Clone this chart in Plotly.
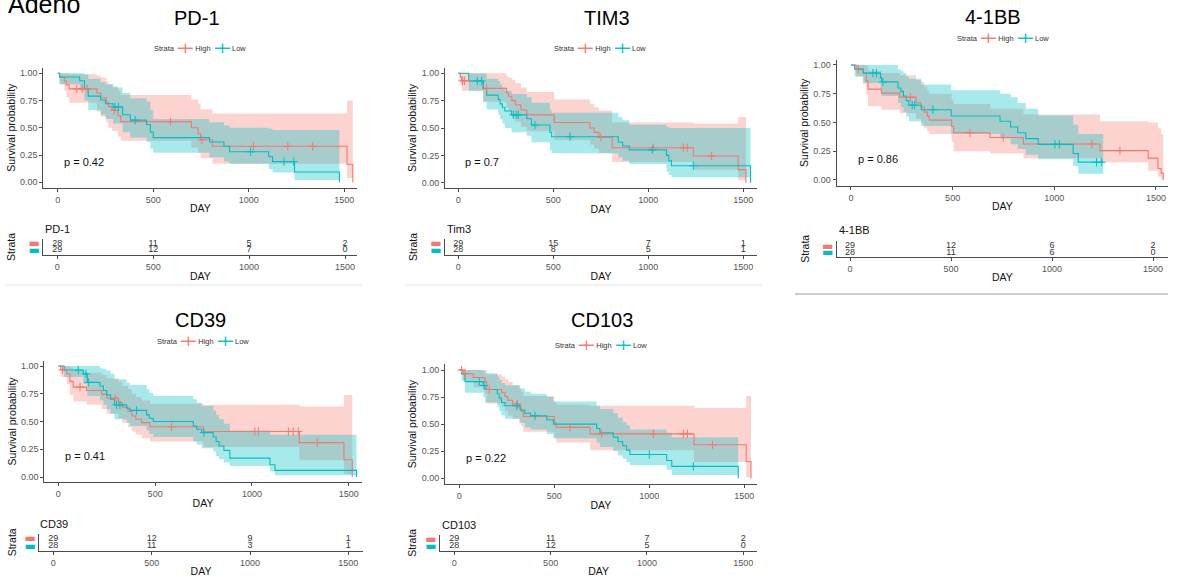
import numpy as np
import plotly.graph_objects as go

# ------------------------------------------------------------------ data
# Kaplan-Meier step points (time in days, survival, 95% CI lower / upper),
# censoring times and numbers at risk.

PD1_HIGH_T = [0, 10, 35, 45, 60, 205, 225, 255, 265, 285, 315, 330, 700, 735, 748, 810, 1515, 1545]
PD1_HIGH_S = [1.0, .964, .929, .893, .857, .816, .775, .734, .694, .66, .61, .556, .50, .445, .39, .33, .165, 0]
PD1_HIGH_LO = [1.0, .90, .84, .78, .73, .65, .60, .55, .50, .47, .42, .38, .32, .27, .22, .17, .04, 0]
PD1_HIGH_UP = [1.0, 1.0, 1.0, 1.0, .99, .98, .96, .93, .90, .88, .84, .80, .76, .72, .67, .63, .75, 0]
PD1_HIGH_C = [100, 128, 154, 295, 590, 755, 1025, 1205, 1335]
PD1_HIGH_RISK = [28, 11, 5, 2]

PD1_LOW_T = [0, 10, 115, 140, 160, 225, 250, 290, 340, 380, 465, 485, 500, 795, 870, 900, 1105, 1125, 1240, 1475]
PD1_LOW_S = [1.0, .966, .931, .862, .79, .755, .72, .69, .62, .57, .53, .46, .41, .37, .33, .28, .235, .19, .094, 0]
PD1_LOW_LO = [1.0, .90, .84, .75, .66, .62, .58, .54, .46, .41, .37, .31, .27, .23, .19, .17, .12, .09, .02, 0]
PD1_LOW_UP = [1.0, 1.0, 1.0, .99, .95, .92, .90, .87, .82, .77, .74, .66, .58, .55, .52, .50, .49, .48, .48, 0]
PD1_LOW_C = [300, 318, 405, 1010, 1185, 1236]
PD1_LOW_RISK = [29, 12, 7, 0]

TIM3_HIGH_T = [0, 10, 18, 131, 254, 265, 282, 300, 330, 360, 505, 693, 715, 740, 810, 1237, 1473, 1514]
TIM3_HIGH_S = [1.0, .966, .931, .862, .82, .79, .75, .71, .665, .62, .55, .50, .46, .415, .32, .244, .12, 0]
TIM3_HIGH_LO = [1.0, .90, .84, .74, .69, .65, .60, .56, .51, .47, .39, .35, .31, .27, .19, .12, .02, 0]
TIM3_HIGH_UP = [1.0, 1.0, 1.0, 1.0, .97, .96, .94, .91, .87, .83, .76, .72, .69, .66, .55, .54, .60, 0]
TIM3_HIGH_C = [22, 32, 149, 751, 1026, 1184, 1205, 1333]
TIM3_HIGH_RISK = [29, 15, 7, 1]

TIM3_LOW_T = [0, 55, 131, 149, 210, 220, 232, 245, 280, 360, 385, 482, 491, 842, 865, 900, 1096, 1108, 1122, 1538]
TIM3_LOW_S = [1.0, .929, .86, .80, .76, .72, .69, .655, .62, .585, .527, .46, .42, .37, .335, .30, .25, .20, .155, 0]
TIM3_LOW_LO = [1.0, .84, .74, .67, .62, .58, .54, .50, .46, .43, .37, .30, .27, .23, .20, .17, .10, .07, .05, 0]
TIM3_LOW_UP = [1.0, 1.0, 1.0, .95, .93, .90, .87, .84, .81, .78, .73, .67, .64, .60, .57, .53, .51, .50, .50, 0]
TIM3_LOW_C = [100, 123, 290, 305, 316, 403, 588, 1021, 1237]
TIM3_LOW_RISK = [28, 8, 5, 1]

BB_HIGH_T = [0, 25, 60, 75, 84, 150, 240, 320, 345, 360, 375, 385, 495, 505, 684, 848, 1225, 1462, 1510, 1526, 1536]
BB_HIGH_S = [1.0, .966, .931, .862, .79, .755, .72, .67, .635, .59, .555, .52, .465, .41, .37, .313, .255, .19, .10, .06, 0]
BB_HIGH_LO = [1.0, .90, .84, .74, .64, .61, .58, .53, .49, .45, .42, .40, .33, .25, .23, .19, .155, .08, .03, .01, 0]
BB_HIGH_UP = [1.0, 1.0, 1.0, .99, .95, .93, .91, .87, .85, .81, .78, .75, .70, .66, .62, .57, .51, .50, .45, .40, 0]
BB_HIGH_C = [36, 292, 585, 749, 1184, 1323]
BB_HIGH_RISK = [29, 12, 6, 2]

BB_LOW_T = [0, 18, 60, 145, 150, 231, 245, 258, 272, 285, 346, 493, 733, 785, 820, 860, 921, 1093, 1118, 1241]
BB_LOW_S = [1.0, .964, .929, .89, .853, .80, .77, .73, .69, .65, .61, .556, .51, .46, .41, .36, .31, .23, .155, .155]
BB_LOW_LO = [1.0, .90, .84, .78, .73, .67, .63, .59, .55, .51, .47, .40, .36, .31, .27, .22, .18, .12, .055, .055]
BB_LOW_UP = [1.0, 1.0, 1.0, 1.0, 1.0, .96, .95, .93, .90, .88, .83, .78, .75, .72, .67, .62, .56, .48, .40, .40]
BB_LOW_C = [108, 125, 157, 301, 313, 403, 1003, 1025, 1208, 1233]
BB_LOW_RISK = [28, 11, 6, 0]

CD39_HIGH_T = [0, 12, 43, 60, 77, 146, 224, 250, 310, 330, 360, 380, 400, 430, 473, 749, 1245, 1475, 1518]
CD39_HIGH_S = [1.0, .966, .931, .862, .81, .78, .745, .71, .67, .63, .59, .55, .52, .49, .453, .41, .31, .155, 0]
CD39_HIGH_LO = [1.0, .90, .84, .74, .68, .65, .61, .57, .53, .49, .45, .41, .38, .35, .32, .27, .15, .03, 0]
CD39_HIGH_UP = [1.0, 1.0, 1.0, .99, .96, .94, .92, .89, .86, .82, .79, .75, .72, .69, .66, .65, .635, .74, 0]
CD39_HIGH_C = [22, 112, 293, 585, 1015, 1033, 1188, 1213, 1239, 1337]
CD39_HIGH_RISK = [29, 12, 9, 1]

CD39_LOW_T = [0, 30, 129, 150, 215, 233, 250, 270, 290, 353, 370, 456, 470, 490, 697, 715, 740, 800, 815, 830, 855, 886, 1093, 1119, 1540]
CD39_LOW_S = [1.0, .964, .929, .853, .82, .78, .74, .70, .65, .62, .60, .56, .53, .50, .46, .43, .40, .36, .32, .28, .24, .17, .11, .06, 0]
CD39_LOW_LO = [1.0, .90, .84, .73, .69, .65, .61, .57, .52, .49, .46, .42, .39, .36, .32, .29, .26, .23, .19, .16, .13, .10, .05, .015, 0]
CD39_LOW_UP = [1.0, 1.0, 1.0, 1.0, .98, .97, .96, .93, .88, .85, .83, .79, .76, .73, .70, .67, .64, .60, .56, .52, .48, .42, .38, .38, 0]
CD39_LOW_C = [103, 143, 155, 301, 318, 404, 752]
CD39_LOW_RISK = [28, 11, 3, 1]

CD103_HIGH_T = [0, 20, 74, 135, 144, 223, 240, 255, 280, 315, 325, 337, 500, 510, 688, 1235, 1510, 1535]
CD103_HIGH_S = [1.0, .966, .931, .89, .82, .79, .755, .72, .685, .65, .62, .57, .51, .47, .41, .31, .155, 0]
CD103_HIGH_LO = [1.0, .90, .84, .78, .69, .66, .62, .58, .55, .51, .48, .43, .37, .33, .26, .15, .01, 0]
CD103_HIGH_UP = [1.0, 1.0, 1.0, 1.0, .96, .94, .92, .89, .86, .83, .80, .76, .71, .68, .67, .65, .76, 0]
CD103_HIGH_C = [12, 30, 158, 305, 582, 749, 1021, 1179, 1200, 1333]
CD103_HIGH_RISK = [29, 11, 7, 2]

CD103_LOW_T = [0, 12, 30, 126, 135, 200, 210, 222, 240, 320, 345, 375, 460, 495, 723, 740, 810, 835, 860, 880, 898, 1091, 1118, 1468]
CD103_LOW_S = [1.0, .964, .893, .857, .82, .78, .74, .70, .67, .63, .60, .578, .54, .50, .46, .42, .38, .34, .30, .26, .22, .165, .11, 0]
CD103_LOW_LO = [1.0, .90, .79, .75, .70, .66, .62, .58, .55, .51, .47, .45, .41, .37, .33, .29, .25, .21, .18, .15, .12, .08, .03, 0]
CD103_LOW_UP = [1.0, 1.0, 1.0, .99, .97, .94, .91, .88, .86, .83, .80, .78, .75, .71, .67, .64, .60, .56, .52, .49, .45, .42, .38, 0]
CD103_LOW_C = [105, 130, 302, 398, 1000, 1232]
CD103_LOW_RISK = [28, 12, 5, 0]

PANEL_TITLES = ["PD-1", "TIM3", "4-1BB", "CD39", "CD103"]
TABLE_TITLES = ["PD-1", "Tim3", "4-1BB", "CD39", "CD103"]
P_VALUES = ["p = 0.42", "p = 0.7", "p = 0.86", "p = 0.41", "p = 0.22"]
RISK_TIMES = [0, 500, 1000, 1500]
X_TICKS = [0, 500, 1000, 1500]
Y_TICKS = [0, 0.25, 0.5, 0.75, 1.0]
STRATA = ["High", "Low"]
FIGURE_LABEL = "Adeno"

SERIES = [
    [(PD1_HIGH_T, PD1_HIGH_S, PD1_HIGH_LO, PD1_HIGH_UP, PD1_HIGH_C, PD1_HIGH_RISK),
     (PD1_LOW_T, PD1_LOW_S, PD1_LOW_LO, PD1_LOW_UP, PD1_LOW_C, PD1_LOW_RISK)],
    [(TIM3_HIGH_T, TIM3_HIGH_S, TIM3_HIGH_LO, TIM3_HIGH_UP, TIM3_HIGH_C, TIM3_HIGH_RISK),
     (TIM3_LOW_T, TIM3_LOW_S, TIM3_LOW_LO, TIM3_LOW_UP, TIM3_LOW_C, TIM3_LOW_RISK)],
    [(BB_HIGH_T, BB_HIGH_S, BB_HIGH_LO, BB_HIGH_UP, BB_HIGH_C, BB_HIGH_RISK),
     (BB_LOW_T, BB_LOW_S, BB_LOW_LO, BB_LOW_UP, BB_LOW_C, BB_LOW_RISK)],
    [(CD39_HIGH_T, CD39_HIGH_S, CD39_HIGH_LO, CD39_HIGH_UP, CD39_HIGH_C, CD39_HIGH_RISK),
     (CD39_LOW_T, CD39_LOW_S, CD39_LOW_LO, CD39_LOW_UP, CD39_LOW_C, CD39_LOW_RISK)],
    [(CD103_HIGH_T, CD103_HIGH_S, CD103_HIGH_LO, CD103_HIGH_UP, CD103_HIGH_C, CD103_HIGH_RISK),
     (CD103_LOW_T, CD103_LOW_S, CD103_LOW_LO, CD103_LOW_UP, CD103_LOW_C, CD103_LOW_RISK)],
]

# ------------------------------------------------------------------ style / layout
W, H = 1177, 579
FONT = "Arial, 'Liberation Sans', sans-serif"
COLORS = ["#F8766D", "#00BFC4"]
FILLS = ["rgba(248,118,109,0.32)", "rgba(0,191,196,0.34)"]
AXIS_COLOR = "#4a4a4a"

# pixel geometry of each panel (plot box, table box, ranges, label positions)
GEOM = [
    dict(main=(43.3, 357.3, 67.8, 187.7), mxr=(-75.4, 1568.6), myr=(-0.0495, 1.05),
         tab=(43.3, 357.3, 239, 255), txr=(-73, 1564), tyr=(0.254, 2.64),
         title=(197, 18), legend=(200, 48), ttitle=(43, 229), sstand=10),
    dict(main=(445, 757, 67.8, 188.3), mxr=(-70, 1572), myr=(-0.051, 1.05),
         tab=(445, 757, 239, 255), txr=(-70, 1572), tyr=(0.254, 2.64),
         title=(607, 18), legend=(600, 48), ttitle=(445, 229), sstand=10),
    dict(main=(836.7, 1168, 60, 185.7), mxr=(-70.3, 1559.4), myr=(-0.0496, 1.043),
         tab=(836.7, 1168, 241, 256.7), txr=(-66, 1574), tyr=(0.333, 2.71),
         title=(993, 17), legend=(1003, 38), ttitle=(837, 230), sstand=10),
    dict(main=(44.3, 361.7, 360.7, 482.3), mxr=(-72.3, 1566.6), myr=(-0.0477, 1.048),
         tab=(39.3, 362.7, 534, 550.7), txr=(-71.2, 1573), tyr=(0.324, 2.58),
         title=(200, 320), legend=(203, 341), ttitle=(38, 524), sstand=5),
    dict(main=(445, 756.7, 364.3, 484), mxr=(-75.3, 1565), myr=(-0.0526, 1.0526),
         tab=(440, 757.3, 535, 550.7), txr=(-74.2, 1572.5), tyr=(0.254, 2.6),
         title=(602, 320), legend=(601, 345), ttitle=(440, 525), sstand=6),
]
SEPARATORS = [(5, 362, 285, "#e6e6e6"), (405, 762, 285, "#e6e6e6"), (795, 1168, 294, "#9a9a9a")]


def fx(p):
    return p / W


def fy(p):
    return 1 - p / H


def names(n):
    s = "" if n == 1 else str(n)
    return "x" + s, "y" + s, "xaxis" + s, "yaxis" + s


def dash(color):
    return f'<span style="color:{color}">\u25ac</span>'


def key(color):
    return f'<span style="color:{color}">\u2501\u254b\u2501</span>'


fig = go.Figure()
layout_axes = {}
annotations = []
shapes = []

axis_common = dict(showline=True, linecolor=AXIS_COLOR, linewidth=1, showgrid=False,
                   zeroline=False, ticks="outside", ticklen=3, tickcolor=AXIS_COLOR,
                   tickwidth=1, tickfont=dict(size=9, color="#555555", family=FONT),
                   automargin=False, fixedrange=True)
title_font = dict(size=10.5, color="#111111", family=FONT)

for i, g in enumerate(GEOM):
    xm, ym, xkm, ykm = names(2 * i + 1)
    xt, yt, xkt, ykt = names(2 * i + 2)

    # --- confidence bands
    for k, (T, S, LO, UP, C, R) in enumerate(SERIES[i]):
        fig.add_trace(go.Scatter(x=T, y=LO, mode="lines", line=dict(width=0, shape="hv"),
                                 xaxis=xm, yaxis=ym, hoverinfo="skip", showlegend=False))
        fig.add_trace(go.Scatter(x=T, y=UP, mode="lines", line=dict(width=0, shape="hv"),
                                 fill="tonexty", fillcolor=FILLS[k],
                                 xaxis=xm, yaxis=ym, hoverinfo="skip", showlegend=False))
    # --- survival lines
    for k, (T, S, LO, UP, C, R) in enumerate(SERIES[i]):
        fig.add_trace(go.Scatter(x=T, y=S, mode="lines", name=STRATA[k],
                                 line=dict(color=COLORS[k], width=1.1, shape="hv"),
                                 xaxis=xm, yaxis=ym, showlegend=False))
    # --- censor marks (placed on the step curve)
    for k, (T, S, LO, UP, C, R) in enumerate(SERIES[i]):
        t_arr = np.asarray(T, dtype=float)
        s_arr = np.asarray(S, dtype=float)
        idx = np.searchsorted(t_arr, np.asarray(C, dtype=float), side="right") - 1
        fig.add_trace(go.Scatter(x=C, y=s_arr[idx], mode="markers",
                                 marker=dict(symbol="cross-thin", size=6,
                                             line=dict(color=COLORS[k], width=1)),
                                 xaxis=xm, yaxis=ym, showlegend=False, hoverinfo="skip"))
    # --- risk table numbers
    for k, (T, S, LO, UP, C, R) in enumerate(SERIES[i]):
        fig.add_trace(go.Scatter(x=RISK_TIMES, y=[2 - k] * len(RISK_TIMES), mode="text",
                                 text=[str(v) for v in R],
                                 textfont=dict(size=9, color="#333333", family=FONT),
                                 xaxis=xt, yaxis=yt, showlegend=False, hoverinfo="skip"))

    mx0, mx1, my0, my1 = g["main"]
    tx0, tx1, ty0, ty1 = g["tab"]
    layout_axes[xkm] = dict(axis_common, domain=[fx(mx0), fx(mx1)], range=list(g["mxr"]),
                            anchor=ym, tickvals=X_TICKS,
                            title=dict(text="DAY", font=title_font, standoff=1))
    layout_axes[ykm] = dict(axis_common, domain=[fy(my1), fy(my0)], range=list(g["myr"]),
                            anchor=xm, tickvals=Y_TICKS, tickformat=".2f",
                            title=dict(text="Survival probability", font=title_font, standoff=2))
    layout_axes[xkt] = dict(axis_common, domain=[fx(tx0), fx(tx1)], range=list(g["txr"]),
                            anchor=yt, tickvals=X_TICKS,
                            title=dict(text="DAY", font=title_font, standoff=1))
    layout_axes[ykt] = dict(axis_common, domain=[fy(ty1), fy(ty0)], range=list(g["tyr"]),
                            anchor=xt, tickvals=[1, 2], ticktext=[dash(COLORS[1]), dash(COLORS[0])],
                            ticks="", tickfont=dict(size=12, family="DejaVu Sans"),
                            title=dict(text="Strata", font=title_font, standoff=g["sstand"]))

    # titles / legends / p-values
    annotations.append(dict(text=PANEL_TITLES[i], x=fx(g["title"][0]), y=fy(g["title"][1]),
                            xref="paper", yref="paper", xanchor="center", yanchor="middle",
                            showarrow=False, font=dict(size=20, color="#000000", family=FONT)))
    legend_text = f"Strata  {key(COLORS[0])} {STRATA[0]}  {key(COLORS[1])} {STRATA[1]}"
    annotations.append(dict(text=legend_text, x=fx(g["legend"][0]), y=fy(g["legend"][1]),
                            xref="paper", yref="paper", xanchor="center", yanchor="middle",
                            showarrow=False, font=dict(size=7.5, color="#333333", family=FONT)))
    annotations.append(dict(text=P_VALUES[i], x=25, y=0.185, xref=xm, yref=ym,
                            xanchor="left", yanchor="middle", showarrow=False,
                            font=dict(size=11, color="#111111", family=FONT)))
    annotations.append(dict(text=TABLE_TITLES[i], x=fx(g["ttitle"][0]), y=fy(g["ttitle"][1]),
                            xref="paper", yref="paper", xanchor="left", yanchor="middle",
                            showarrow=False, font=dict(size=11, color="#111111", family=FONT)))

annotations.append(dict(text=FIGURE_LABEL, x=fx(6), y=fy(4), xref="paper", yref="paper",
                        xanchor="left", yanchor="middle", showarrow=False,
                        font=dict(size=25, color="#000000", family=FONT)))

for (x0, x1, yy, col) in SEPARATORS:
    shapes.append(dict(type="line", xref="paper", yref="paper", x0=fx(x0), x1=fx(x1),
                       y0=fy(yy), y1=fy(yy), line=dict(color=col, width=1)))

fig.update_layout(
    width=W, height=H,
    margin=dict(l=0, r=0, t=0, b=0),
    paper_bgcolor="white", plot_bgcolor="white",
    showlegend=False,
    font=dict(family=FONT),
    annotations=annotations,
    shapes=shapes,
    **layout_axes,
)

fig.write_html("out.html")
